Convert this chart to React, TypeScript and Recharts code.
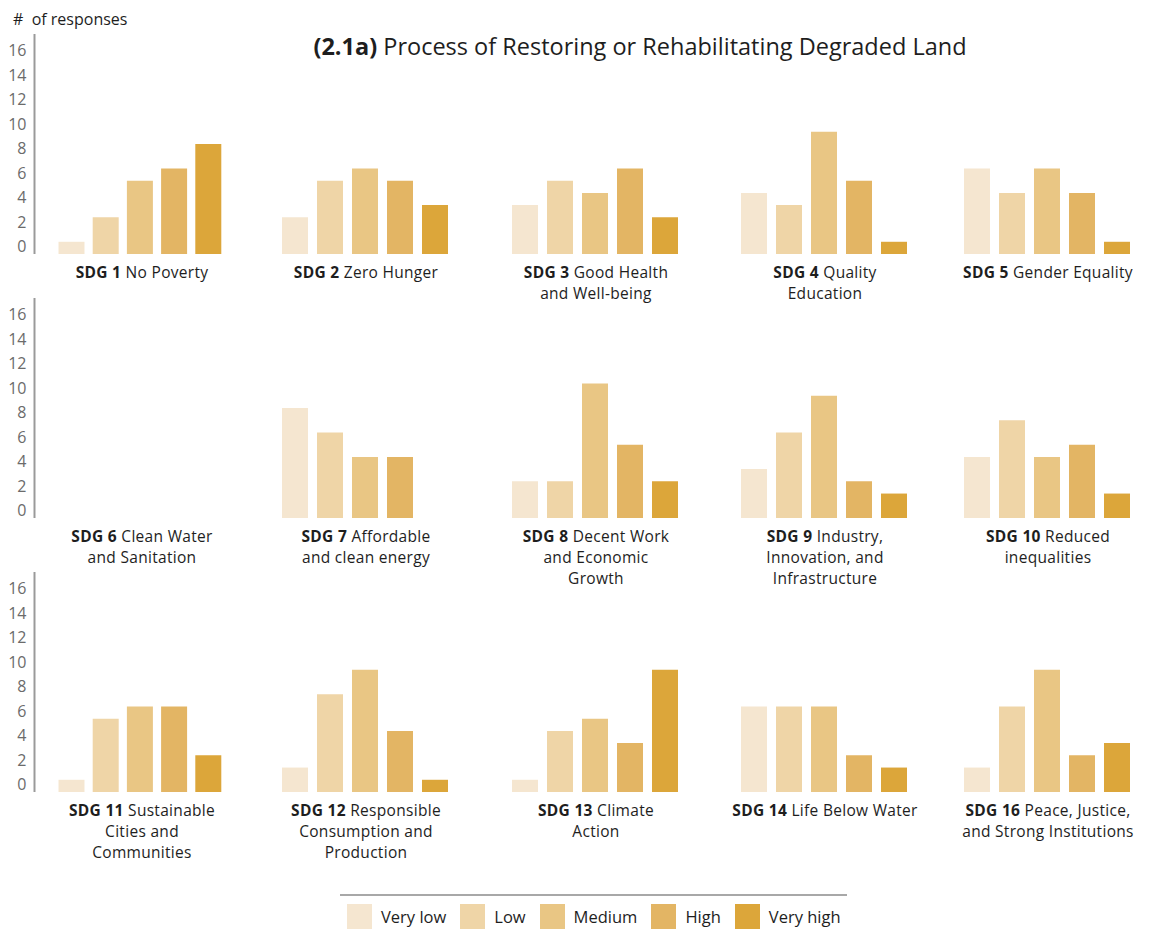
import { BarChart, Bar, XAxis, YAxis, Cell } from "recharts";

// response levels and their fills
const LEVELS = ["Very low", "Low", "Medium", "High", "Very high"];
const COLORS = ["#F5E6D0", "#EFD5A7", "#E9C684", "#E3B564", "#DCA63A"];
const Y_TICKS = [0, 2, 4, 6, 8, 10, 12, 14, 16];

// # of responses per level
const sdg1 = [1, 3, 6, 7, 9];
const sdg2 = [3, 6, 7, 6, 4];
const sdg3 = [4, 6, 5, 7, 3];
const sdg4 = [5, 4, 10, 6, 1];
const sdg5 = [7, 5, 7, 5, 1];
const sdg6 = [0, 0, 0, 0, 0];
const sdg7 = [9, 7, 5, 5, 0];
const sdg8 = [3, 3, 11, 6, 3];
const sdg9 = [4, 7, 10, 3, 2];
const sdg10 = [5, 8, 5, 6, 2];
const sdg11 = [1, 6, 7, 7, 3];
const sdg12 = [2, 8, 10, 5, 1];
const sdg13 = [1, 5, 6, 4, 10];
const sdg14 = [7, 7, 7, 3, 2];
const sdg16 = [2, 7, 10, 3, 4];

const SDG_CODES = [
  "SDG 1", "SDG 2", "SDG 3", "SDG 4", "SDG 5",
  "SDG 6", "SDG 7", "SDG 8", "SDG 9", "SDG 10",
  "SDG 11", "SDG 12", "SDG 13", "SDG 14", "SDG 16",
];
// each entry is the label's lines, the code goes in front of the first
const SDG_NAMES = [
  ["No Poverty"],
  ["Zero Hunger"],
  ["Good Health", "and Well-being"],
  ["Quality", "Education"],
  ["Gender Equality"],
  ["Clean Water", "and Sanitation"],
  ["Affordable", "and clean energy"],
  ["Decent Work", "and Economic", "Growth"],
  ["Industry,", "Innovation, and", "Infrastructure"],
  ["Reduced", "inequalities"],
  ["Sustainable", "Cities and", "Communities"],
  ["Responsible", "Consumption and", "Production"],
  ["Climate", "Action"],
  ["Life Below Water"],
  ["Peace, Justice,", "and Strong Institutions"],
];
const SDG_VALUES = [
  sdg1, sdg2, sdg3, sdg4, sdg5,
  sdg6, sdg7, sdg8, sdg9, sdg10,
  sdg11, sdg12, sdg13, sdg14, sdg16,
];

const FONT = "'Open Sans', 'Noto Sans', sans-serif";
const ROW_BASE = [254, 518, 792]; // y of the zero line in each row
const COL_LEFT = [54.5, 276.5, 506.5, 735.5, 958.5]; // plot left of each panel
const COL_W = [171, 175, 175, 175, 175];
const PLOT_H = 220;
const M_TOP = 10;
const M_BOT = 10;
const AXIS_W = 34.5;
const AXIS_PAD = 20;

function YTick(props: any) {
  const { x, y, payload } = props;
  return (
    <text x={x} y={y - 8} textAnchor="end" dominantBaseline="central" fill="#6b6b6b" fontSize={16} fontFamily={FONT}>
      {payload.value}
    </text>
  );
}

function Panel({ idx }: { idx: number }) {
  const row = Math.floor(idx / 5);
  const col = idx % 5;
  const first = col === 0;
  const data = LEVELS.map((level, i) => ({ level, value: SDG_VALUES[idx][i] }));
  const plotW = COL_W[col];
  const left = first ? 0 : COL_LEFT[col] - 5;
  const width = first ? AXIS_W + AXIS_PAD + plotW + 5 : plotW + 10;
  const top = ROW_BASE[row] - PLOT_H - M_TOP;
  const centerX = COL_LEFT[col] + plotW / 2 + 2;

  return (
    <>
      <div style={{ position: "absolute", left, top }}>
        <BarChart
          width={width}
          height={PLOT_H + M_TOP + M_BOT}
          data={data}
          margin={{ top: M_TOP, right: 5, bottom: M_BOT, left: first ? 0 : 5 }}
          barSize={26}
        >
          <XAxis dataKey="level" hide padding={{ left: first ? AXIS_PAD : 0, right: 0 }} />
          <YAxis
            domain={[0, 18]}
            ticks={Y_TICKS}
            hide={!first}
            width={AXIS_W}
            tickLine={false}
            axisLine={{ stroke: "#9a9a9a", strokeWidth: 2 }}
            tick={<YTick />}
            interval={0}
          />
          <Bar dataKey="value" isAnimationActive={false}>
            {data.map((_, i) => (
              <Cell key={`cell-${i}`} fill={COLORS[i]} />
            ))}
          </Bar>
        </BarChart>
      </div>
      <div
        style={{
          position: "absolute",
          left: centerX,
          top: ROW_BASE[row] + 8,
          transform: "translateX(-50%)",
          width: "max-content",
          textAlign: "center",
          fontSize: 15.5,
          letterSpacing: 0.3,
          lineHeight: "21.2px",
          color: "#1e1e1e",
        }}
      >
        {SDG_NAMES[idx].map((line, j) => (
          <div key={j}>
            {j === 0 ? (
              <span>
                <b>{SDG_CODES[idx]}</b> {line}
              </span>
            ) : (
              line
            )}
          </div>
        ))}
      </div>
    </>
  );
}

export default function App() {
  return (
    <div
      style={{
        position: "absolute",
        left: 0,
        top: 0,
        width: 1149,
        height: 933,
        background: "#fff",
        fontFamily: FONT,
        color: "#1e1e1e",
        overflow: "hidden",
      }}
    >
      <div style={{ position: "absolute", left: 13, top: 8, fontSize: 16 }}>#&nbsp;&nbsp;of responses</div>
      <div
        style={{
          position: "absolute",
          left: 640,
          top: 30,
          transform: "translateX(-50%)",
          width: "max-content",
          fontSize: 23.5,
        }}
      >
        <b>(2.1a)</b> Process of Restoring or Rehabilitating Degraded Land
      </div>

      {SDG_CODES.map((_, i) => (
        <Panel key={i} idx={i} />
      ))}

      <div style={{ position: "absolute", left: 340, top: 894, width: 507, height: 2, background: "#a8a8a8" }} />
      <div style={{ position: "absolute", left: 347, top: 904, display: "flex", alignItems: "center", gap: 14 }}>
        {LEVELS.map((level, i) => (
          <div key={level} style={{ display: "flex", alignItems: "center" }}>
            <div style={{ width: 25, height: 25, background: COLORS[i], marginRight: 9 }} />
            <span style={{ fontSize: 16.5 }}>{level}</span>
          </div>
        ))}
      </div>
    </div>
  );
}
